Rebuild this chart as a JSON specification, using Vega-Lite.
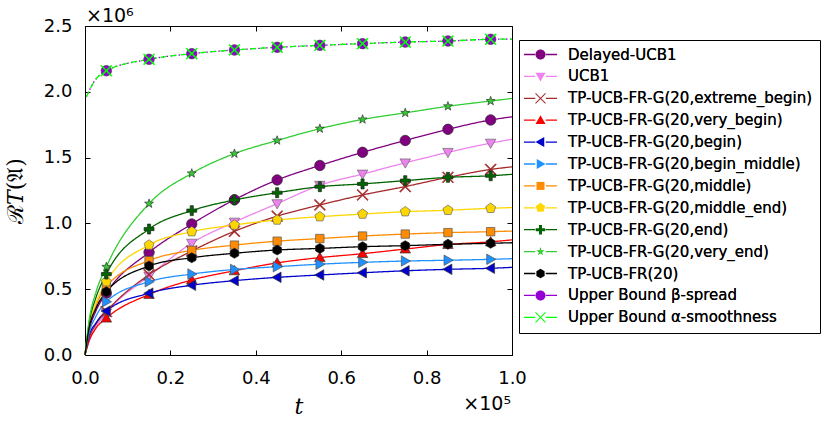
{
  "$schema": "https://vega.github.io/schema/vega-lite/v6.json",
  "width": 427,
  "height": 329,
  "autosize": "none",
  "padding": {"left": 85, "top": 26, "right": 318, "bottom": 72},
  "background": "white",
  "config": {
    "view": {"stroke": "#000", "strokeWidth": 1},
    "font": "DejaVu Sans",
    "axis": {
      "domain": false,
      "grid": false,
      "ticks": true,
      "tickSize": -5,
      "tickColor": "#000",
      "tickWidth": 1,
      "labelFont": "DejaVu Sans",
      "labelFontSize": 18,
      "labelColor": "#000",
      "labelPadding": 18,
      "labelFlush": false,
      "titleColor": "#000",
      "titleFontWeight": "normal"
    },
    "legend": {
      "orient": "none",
      "legendX": 434,
      "legendY": 14,
      "labelFont": "DejaVu Sans",
      "labelFontSize": 15,
      "labelColor": "#000",
      "labelLimit": 400,
      "symbolSize": 100,
      "symbolOffset": 7,
      "labelOffset": 20,
      "rowPadding": 5.9,
      "padding": 7,
      "cornerRadius": 0
    }
  },
  "datasets": {
    "curves": [
      {"s": "Delayed-UCB1", "t": 0, "v": 0},
      {"s": "Delayed-UCB1", "t": 0.01, "v": 0.19},
      {"s": "Delayed-UCB1", "t": 0.025, "v": 0.33},
      {"s": "Delayed-UCB1", "t": 0.05, "v": 0.47},
      {"s": "Delayed-UCB1", "t": 0.15, "v": 0.78},
      {"s": "Delayed-UCB1", "t": 0.25, "v": 0.995},
      {"s": "Delayed-UCB1", "t": 0.35, "v": 1.18},
      {"s": "Delayed-UCB1", "t": 0.45, "v": 1.33},
      {"s": "Delayed-UCB1", "t": 0.55, "v": 1.44},
      {"s": "Delayed-UCB1", "t": 0.65, "v": 1.54},
      {"s": "Delayed-UCB1", "t": 0.75, "v": 1.63},
      {"s": "Delayed-UCB1", "t": 0.85, "v": 1.715},
      {"s": "Delayed-UCB1", "t": 0.95, "v": 1.786},
      {"s": "Delayed-UCB1", "t": 1.0, "v": 1.81},
      {"s": "UCB1", "t": 0, "v": 0},
      {"s": "UCB1", "t": 0.01, "v": 0.11},
      {"s": "UCB1", "t": 0.025, "v": 0.21},
      {"s": "UCB1", "t": 0.05, "v": 0.32},
      {"s": "UCB1", "t": 0.15, "v": 0.6},
      {"s": "UCB1", "t": 0.25, "v": 0.85},
      {"s": "UCB1", "t": 0.35, "v": 1.01},
      {"s": "UCB1", "t": 0.45, "v": 1.15},
      {"s": "UCB1", "t": 0.55, "v": 1.29},
      {"s": "UCB1", "t": 0.65, "v": 1.375},
      {"s": "UCB1", "t": 0.75, "v": 1.46},
      {"s": "UCB1", "t": 0.85, "v": 1.54},
      {"s": "UCB1", "t": 0.95, "v": 1.61},
      {"s": "UCB1", "t": 1.0, "v": 1.64},
      {"s": "TP-UCB-FR-G(20,extreme_begin)", "t": 0, "v": 0},
      {"s": "TP-UCB-FR-G(20,extreme_begin)", "t": 0.01, "v": 0.13},
      {"s": "TP-UCB-FR-G(20,extreme_begin)", "t": 0.025, "v": 0.23},
      {"s": "TP-UCB-FR-G(20,extreme_begin)", "t": 0.05, "v": 0.33},
      {"s": "TP-UCB-FR-G(20,extreme_begin)", "t": 0.15, "v": 0.61},
      {"s": "TP-UCB-FR-G(20,extreme_begin)", "t": 0.25, "v": 0.79},
      {"s": "TP-UCB-FR-G(20,extreme_begin)", "t": 0.35, "v": 0.94},
      {"s": "TP-UCB-FR-G(20,extreme_begin)", "t": 0.45, "v": 1.055},
      {"s": "TP-UCB-FR-G(20,extreme_begin)", "t": 0.55, "v": 1.14},
      {"s": "TP-UCB-FR-G(20,extreme_begin)", "t": 0.65, "v": 1.216},
      {"s": "TP-UCB-FR-G(20,extreme_begin)", "t": 0.75, "v": 1.28},
      {"s": "TP-UCB-FR-G(20,extreme_begin)", "t": 0.85, "v": 1.35},
      {"s": "TP-UCB-FR-G(20,extreme_begin)", "t": 0.95, "v": 1.41},
      {"s": "TP-UCB-FR-G(20,extreme_begin)", "t": 1.0, "v": 1.43},
      {"s": "TP-UCB-FR-G(20,very_begin)", "t": 0, "v": 0},
      {"s": "TP-UCB-FR-G(20,very_begin)", "t": 0.01, "v": 0.11},
      {"s": "TP-UCB-FR-G(20,very_begin)", "t": 0.025, "v": 0.2},
      {"s": "TP-UCB-FR-G(20,very_begin)", "t": 0.05, "v": 0.28},
      {"s": "TP-UCB-FR-G(20,very_begin)", "t": 0.15, "v": 0.46},
      {"s": "TP-UCB-FR-G(20,very_begin)", "t": 0.25, "v": 0.57},
      {"s": "TP-UCB-FR-G(20,very_begin)", "t": 0.35, "v": 0.64},
      {"s": "TP-UCB-FR-G(20,very_begin)", "t": 0.45, "v": 0.70},
      {"s": "TP-UCB-FR-G(20,very_begin)", "t": 0.55, "v": 0.74},
      {"s": "TP-UCB-FR-G(20,very_begin)", "t": 0.65, "v": 0.77},
      {"s": "TP-UCB-FR-G(20,very_begin)", "t": 0.75, "v": 0.805},
      {"s": "TP-UCB-FR-G(20,very_begin)", "t": 0.85, "v": 0.84},
      {"s": "TP-UCB-FR-G(20,very_begin)", "t": 0.95, "v": 0.86},
      {"s": "TP-UCB-FR-G(20,very_begin)", "t": 1.0, "v": 0.875},
      {"s": "TP-UCB-FR-G(20,begin)", "t": 0, "v": 0},
      {"s": "TP-UCB-FR-G(20,begin)", "t": 0.01, "v": 0.15},
      {"s": "TP-UCB-FR-G(20,begin)", "t": 0.025, "v": 0.24},
      {"s": "TP-UCB-FR-G(20,begin)", "t": 0.05, "v": 0.334},
      {"s": "TP-UCB-FR-G(20,begin)", "t": 0.15, "v": 0.47},
      {"s": "TP-UCB-FR-G(20,begin)", "t": 0.25, "v": 0.53},
      {"s": "TP-UCB-FR-G(20,begin)", "t": 0.35, "v": 0.565},
      {"s": "TP-UCB-FR-G(20,begin)", "t": 0.45, "v": 0.59},
      {"s": "TP-UCB-FR-G(20,begin)", "t": 0.55, "v": 0.608},
      {"s": "TP-UCB-FR-G(20,begin)", "t": 0.65, "v": 0.625},
      {"s": "TP-UCB-FR-G(20,begin)", "t": 0.75, "v": 0.64},
      {"s": "TP-UCB-FR-G(20,begin)", "t": 0.85, "v": 0.651},
      {"s": "TP-UCB-FR-G(20,begin)", "t": 0.95, "v": 0.659},
      {"s": "TP-UCB-FR-G(20,begin)", "t": 1.0, "v": 0.666},
      {"s": "TP-UCB-FR-G(20,begin_middle)", "t": 0, "v": 0},
      {"s": "TP-UCB-FR-G(20,begin_middle)", "t": 0.01, "v": 0.17},
      {"s": "TP-UCB-FR-G(20,begin_middle)", "t": 0.025, "v": 0.29},
      {"s": "TP-UCB-FR-G(20,begin_middle)", "t": 0.05, "v": 0.405},
      {"s": "TP-UCB-FR-G(20,begin_middle)", "t": 0.15, "v": 0.557},
      {"s": "TP-UCB-FR-G(20,begin_middle)", "t": 0.25, "v": 0.615},
      {"s": "TP-UCB-FR-G(20,begin_middle)", "t": 0.35, "v": 0.65},
      {"s": "TP-UCB-FR-G(20,begin_middle)", "t": 0.45, "v": 0.671},
      {"s": "TP-UCB-FR-G(20,begin_middle)", "t": 0.55, "v": 0.69},
      {"s": "TP-UCB-FR-G(20,begin_middle)", "t": 0.65, "v": 0.704},
      {"s": "TP-UCB-FR-G(20,begin_middle)", "t": 0.75, "v": 0.714},
      {"s": "TP-UCB-FR-G(20,begin_middle)", "t": 0.85, "v": 0.72},
      {"s": "TP-UCB-FR-G(20,begin_middle)", "t": 0.95, "v": 0.727},
      {"s": "TP-UCB-FR-G(20,begin_middle)", "t": 1.0, "v": 0.732},
      {"s": "TP-UCB-FR-G(20,middle)", "t": 0, "v": 0},
      {"s": "TP-UCB-FR-G(20,middle)", "t": 0.01, "v": 0.22},
      {"s": "TP-UCB-FR-G(20,middle)", "t": 0.025, "v": 0.37},
      {"s": "TP-UCB-FR-G(20,middle)", "t": 0.05, "v": 0.52},
      {"s": "TP-UCB-FR-G(20,middle)", "t": 0.15, "v": 0.717},
      {"s": "TP-UCB-FR-G(20,middle)", "t": 0.25, "v": 0.795},
      {"s": "TP-UCB-FR-G(20,middle)", "t": 0.35, "v": 0.835},
      {"s": "TP-UCB-FR-G(20,middle)", "t": 0.45, "v": 0.865},
      {"s": "TP-UCB-FR-G(20,middle)", "t": 0.55, "v": 0.885},
      {"s": "TP-UCB-FR-G(20,middle)", "t": 0.65, "v": 0.904},
      {"s": "TP-UCB-FR-G(20,middle)", "t": 0.75, "v": 0.919},
      {"s": "TP-UCB-FR-G(20,middle)", "t": 0.85, "v": 0.93},
      {"s": "TP-UCB-FR-G(20,middle)", "t": 0.95, "v": 0.937},
      {"s": "TP-UCB-FR-G(20,middle)", "t": 1.0, "v": 0.942},
      {"s": "TP-UCB-FR-G(20,middle_end)", "t": 0, "v": 0},
      {"s": "TP-UCB-FR-G(20,middle_end)", "t": 0.01, "v": 0.23},
      {"s": "TP-UCB-FR-G(20,middle_end)", "t": 0.025, "v": 0.39},
      {"s": "TP-UCB-FR-G(20,middle_end)", "t": 0.05, "v": 0.557},
      {"s": "TP-UCB-FR-G(20,middle_end)", "t": 0.15, "v": 0.836},
      {"s": "TP-UCB-FR-G(20,middle_end)", "t": 0.25, "v": 0.937},
      {"s": "TP-UCB-FR-G(20,middle_end)", "t": 0.35, "v": 0.988},
      {"s": "TP-UCB-FR-G(20,middle_end)", "t": 0.45, "v": 1.026},
      {"s": "TP-UCB-FR-G(20,middle_end)", "t": 0.55, "v": 1.051},
      {"s": "TP-UCB-FR-G(20,middle_end)", "t": 0.65, "v": 1.071},
      {"s": "TP-UCB-FR-G(20,middle_end)", "t": 0.75, "v": 1.089},
      {"s": "TP-UCB-FR-G(20,middle_end)", "t": 0.85, "v": 1.10},
      {"s": "TP-UCB-FR-G(20,middle_end)", "t": 0.95, "v": 1.115},
      {"s": "TP-UCB-FR-G(20,middle_end)", "t": 1.0, "v": 1.12},
      {"s": "TP-UCB-FR-G(20,end)", "t": 0, "v": 0},
      {"s": "TP-UCB-FR-G(20,end)", "t": 0.01, "v": 0.25},
      {"s": "TP-UCB-FR-G(20,end)", "t": 0.025, "v": 0.43},
      {"s": "TP-UCB-FR-G(20,end)", "t": 0.05, "v": 0.615},
      {"s": "TP-UCB-FR-G(20,end)", "t": 0.15, "v": 0.957},
      {"s": "TP-UCB-FR-G(20,end)", "t": 0.25, "v": 1.097},
      {"s": "TP-UCB-FR-G(20,end)", "t": 0.35, "v": 1.178},
      {"s": "TP-UCB-FR-G(20,end)", "t": 0.45, "v": 1.233},
      {"s": "TP-UCB-FR-G(20,end)", "t": 0.55, "v": 1.279},
      {"s": "TP-UCB-FR-G(20,end)", "t": 0.65, "v": 1.30},
      {"s": "TP-UCB-FR-G(20,end)", "t": 0.75, "v": 1.325},
      {"s": "TP-UCB-FR-G(20,end)", "t": 0.85, "v": 1.35},
      {"s": "TP-UCB-FR-G(20,end)", "t": 0.95, "v": 1.362},
      {"s": "TP-UCB-FR-G(20,end)", "t": 1.0, "v": 1.373},
      {"s": "TP-UCB-FR-G(20,very_end)", "t": 0, "v": 0},
      {"s": "TP-UCB-FR-G(20,very_end)", "t": 0.01, "v": 0.27},
      {"s": "TP-UCB-FR-G(20,very_end)", "t": 0.025, "v": 0.47},
      {"s": "TP-UCB-FR-G(20,very_end)", "t": 0.05, "v": 0.67},
      {"s": "TP-UCB-FR-G(20,very_end)", "t": 0.15, "v": 1.15},
      {"s": "TP-UCB-FR-G(20,very_end)", "t": 0.25, "v": 1.38},
      {"s": "TP-UCB-FR-G(20,very_end)", "t": 0.35, "v": 1.53},
      {"s": "TP-UCB-FR-G(20,very_end)", "t": 0.45, "v": 1.63},
      {"s": "TP-UCB-FR-G(20,very_end)", "t": 0.55, "v": 1.72},
      {"s": "TP-UCB-FR-G(20,very_end)", "t": 0.65, "v": 1.79},
      {"s": "TP-UCB-FR-G(20,very_end)", "t": 0.75, "v": 1.84},
      {"s": "TP-UCB-FR-G(20,very_end)", "t": 0.85, "v": 1.89},
      {"s": "TP-UCB-FR-G(20,very_end)", "t": 0.95, "v": 1.93},
      {"s": "TP-UCB-FR-G(20,very_end)", "t": 1.0, "v": 1.95},
      {"s": "TP-UCB-FR(20)", "t": 0, "v": 0},
      {"s": "TP-UCB-FR(20)", "t": 0.01, "v": 0.21},
      {"s": "TP-UCB-FR(20)", "t": 0.025, "v": 0.35},
      {"s": "TP-UCB-FR(20)", "t": 0.05, "v": 0.48},
      {"s": "TP-UCB-FR(20)", "t": 0.15, "v": 0.676},
      {"s": "TP-UCB-FR(20)", "t": 0.25, "v": 0.739},
      {"s": "TP-UCB-FR(20)", "t": 0.35, "v": 0.773},
      {"s": "TP-UCB-FR(20)", "t": 0.45, "v": 0.798},
      {"s": "TP-UCB-FR(20)", "t": 0.55, "v": 0.81},
      {"s": "TP-UCB-FR(20)", "t": 0.65, "v": 0.823},
      {"s": "TP-UCB-FR(20)", "t": 0.75, "v": 0.831},
      {"s": "TP-UCB-FR(20)", "t": 0.85, "v": 0.841},
      {"s": "TP-UCB-FR(20)", "t": 0.95, "v": 0.849},
      {"s": "TP-UCB-FR(20)", "t": 1.0, "v": 0.853},
      {"s": "Upper Bound β-spread", "t": 0.003, "v": 1.96},
      {"s": "Upper Bound β-spread", "t": 0.02, "v": 2.07},
      {"s": "Upper Bound β-spread", "t": 0.05, "v": 2.16},
      {"s": "Upper Bound β-spread", "t": 0.15, "v": 2.247},
      {"s": "Upper Bound β-spread", "t": 0.25, "v": 2.29},
      {"s": "Upper Bound β-spread", "t": 0.35, "v": 2.318},
      {"s": "Upper Bound β-spread", "t": 0.45, "v": 2.338},
      {"s": "Upper Bound β-spread", "t": 0.55, "v": 2.353},
      {"s": "Upper Bound β-spread", "t": 0.65, "v": 2.366},
      {"s": "Upper Bound β-spread", "t": 0.75, "v": 2.378},
      {"s": "Upper Bound β-spread", "t": 0.85, "v": 2.386},
      {"s": "Upper Bound β-spread", "t": 0.95, "v": 2.399},
      {"s": "Upper Bound β-spread", "t": 1.0, "v": 2.40},
      {"s": "Upper Bound α-smoothness", "t": 0.003, "v": 1.96},
      {"s": "Upper Bound α-smoothness", "t": 0.02, "v": 2.07},
      {"s": "Upper Bound α-smoothness", "t": 0.05, "v": 2.16},
      {"s": "Upper Bound α-smoothness", "t": 0.15, "v": 2.247},
      {"s": "Upper Bound α-smoothness", "t": 0.25, "v": 2.29},
      {"s": "Upper Bound α-smoothness", "t": 0.35, "v": 2.318},
      {"s": "Upper Bound α-smoothness", "t": 0.45, "v": 2.338},
      {"s": "Upper Bound α-smoothness", "t": 0.55, "v": 2.353},
      {"s": "Upper Bound α-smoothness", "t": 0.65, "v": 2.366},
      {"s": "Upper Bound α-smoothness", "t": 0.75, "v": 2.378},
      {"s": "Upper Bound α-smoothness", "t": 0.85, "v": 2.386},
      {"s": "Upper Bound α-smoothness", "t": 0.95, "v": 2.399},
      {"s": "Upper Bound α-smoothness", "t": 1.0, "v": 2.40}
    ]
  },
  "layer": [
    {
      "data": {"name": "curves"},
      "mark": {"type": "line", "interpolate": "monotone", "strokeWidth": 1.3},
      "encoding": {
        "x": {
          "field": "t",
          "type": "quantitative",
          "scale": {"domain": [0, 1], "nice": false},
          "axis": {
            "values": [0, 0.2, 0.4, 0.6, 0.8, 1],
            "format": ".1f",
            "labelPadding": 19,
            "title": "t",
            "titleFont": "DejaVu Serif",
            "titleFontStyle": "italic",
            "titleFontSize": 22,
            "titlePadding": 9
          }
        },
        "y": {
          "field": "v",
          "type": "quantitative",
          "scale": {"domain": [0, 2.5], "nice": false},
          "axis": {
            "values": [0, 0.5, 1, 1.5, 2, 2.5],
            "format": ".1f",
            "title": "ℛ𝑇(𝔄)",
            "titleFont": "DejaVu Serif",
            "titleFontSize": 22,
            "titlePadding": 16
          }
        },
        "stroke": {
          "field": "s",
          "type": "nominal",
          "scale": {
            "domain": ["Delayed-UCB1", "UCB1", "TP-UCB-FR-G(20,extreme_begin)", "TP-UCB-FR-G(20,very_begin)", "TP-UCB-FR-G(20,begin)", "TP-UCB-FR-G(20,begin_middle)", "TP-UCB-FR-G(20,middle)", "TP-UCB-FR-G(20,middle_end)", "TP-UCB-FR-G(20,end)", "TP-UCB-FR-G(20,very_end)", "TP-UCB-FR(20)", "Upper Bound β-spread", "Upper Bound α-smoothness"],
            "range": ["#800080", "#EE82EE", "#A52A2A", "#FF0000", "#0000CD", "#1E90FF", "#FF8C00", "#FFD700", "#006400", "#32CD32", "#000000", "#9400D3", "#00FF00"]
          },
          "legend": {
            "title": null,
            "symbolType": "M-3.3,0H-1.05M1.05,0H3.3",
            "symbolStrokeWidth": 1.3
          }
        },
        "strokeDash": {
          "field": "s",
          "type": "nominal",
          "scale": {
            "domain": ["Delayed-UCB1", "UCB1", "TP-UCB-FR-G(20,extreme_begin)", "TP-UCB-FR-G(20,very_begin)", "TP-UCB-FR-G(20,begin)", "TP-UCB-FR-G(20,begin_middle)", "TP-UCB-FR-G(20,middle)", "TP-UCB-FR-G(20,middle_end)", "TP-UCB-FR-G(20,end)", "TP-UCB-FR-G(20,very_end)", "TP-UCB-FR(20)", "Upper Bound β-spread", "Upper Bound α-smoothness"],
            "range": [[1, 0], [1, 0], [1, 0], [1, 0], [1, 0], [1, 0], [1, 0], [1, 0], [1, 0], [1, 0], [1, 0], [1.5, 2.5], [6, 4]]
          },
          "legend": {
            "title": null,
            "symbolType": "M-3.3,0H-1.05M1.05,0H3.3",
            "symbolStrokeWidth": 1.3
          }
        }
      }
    },
    {
      "data": {"name": "curves"},
      "transform": [{"filter": "round(datum.t * 1000) % 100 == 50"}],
      "mark": {"type": "point", "filled": true, "size": 110, "strokeWidth": 0.7, "opacity": 1},
      "encoding": {
        "x": {"field": "t", "type": "quantitative", "axis": null},
        "y": {"field": "v", "type": "quantitative", "axis": null},
        "color": {
          "field": "s",
          "type": "nominal",
          "scale": {
            "domain": ["Delayed-UCB1", "UCB1", "TP-UCB-FR-G(20,extreme_begin)", "TP-UCB-FR-G(20,very_begin)", "TP-UCB-FR-G(20,begin)", "TP-UCB-FR-G(20,begin_middle)", "TP-UCB-FR-G(20,middle)", "TP-UCB-FR-G(20,middle_end)", "TP-UCB-FR-G(20,end)", "TP-UCB-FR-G(20,very_end)", "TP-UCB-FR(20)", "Upper Bound β-spread", "Upper Bound α-smoothness"],
            "range": ["#800080", "#EE82EE", "#A52A2A", "#FF0000", "#0000CD", "#1E90FF", "#FF8C00", "#FFD700", "#006400", "#32CD32", "#000000", "#9400D3", "#00FF00"]
          },
          "legend": {
            "title": null,
            "strokeColor": "#000",
            "fillColor": "#fff"
          }
        },
        "shape": {
          "field": "s",
          "type": "nominal",
          "scale": {
            "domain": ["Delayed-UCB1", "UCB1", "TP-UCB-FR-G(20,extreme_begin)", "TP-UCB-FR-G(20,very_begin)", "TP-UCB-FR-G(20,begin)", "TP-UCB-FR-G(20,begin_middle)", "TP-UCB-FR-G(20,middle)", "TP-UCB-FR-G(20,middle_end)", "TP-UCB-FR-G(20,end)", "TP-UCB-FR-G(20,very_end)", "TP-UCB-FR(20)", "Upper Bound β-spread", "Upper Bound α-smoothness"],
            "range": [
              "M1,0A1,1 0 1,1 -1,0A1,1 0 1,1 1,0Z",
              "M-1,-0.75L1,-0.75L0,1Z",
              "M-0.93,-1.07L1.07,0.93L0.93,1.07L-1.07,-0.93ZM-0.93,1.07L-1.07,0.93L0.93,-1.07L1.07,-0.93Z",
              "M-1,0.75L1,0.75L0,-1Z",
              "M0.75,-1L0.75,1L-1,0Z",
              "M-0.75,-1L-0.75,1L1,0Z",
              "M-0.8,-0.8H0.8V0.8H-0.8Z",
              "M0,-1L0.951,-0.309L0.588,0.809L-0.588,0.809L-0.951,-0.309Z",
              "M-0.3,-0.95H0.3V-0.3H0.95V0.3H0.3V0.95H-0.3V0.3H-0.95V-0.3H-0.3Z",
              "M0,-0.9L0.212,-0.291L0.856,-0.278L0.342,0.111L0.529,0.728L0,0.36L-0.529,0.728L-0.342,0.111L-0.856,-0.278L-0.212,-0.291Z",
              "M0,-0.95L0.823,-0.475L0.823,0.475L0,0.95L-0.823,0.475L-0.823,-0.475Z",
              "M1,0A1,1 0 1,1 -1,0A1,1 0 1,1 1,0Z",
              "M-0.93,-1.07L1.07,0.93L0.93,1.07L-1.07,-0.93ZM-0.93,1.07L-1.07,0.93L0.93,-1.07L1.07,-0.93Z"
            ]
          }
        },
        "stroke": {
          "field": "s",
          "type": "nominal",
          "scale": {
            "domain": ["Delayed-UCB1", "UCB1", "TP-UCB-FR-G(20,extreme_begin)", "TP-UCB-FR-G(20,very_begin)", "TP-UCB-FR-G(20,begin)", "TP-UCB-FR-G(20,begin_middle)", "TP-UCB-FR-G(20,middle)", "TP-UCB-FR-G(20,middle_end)", "TP-UCB-FR-G(20,end)", "TP-UCB-FR-G(20,very_end)", "TP-UCB-FR(20)", "Upper Bound β-spread", "Upper Bound α-smoothness"],
            "range": ["#333", "#666", "#A52A2A", "#333", "#333", "#555", "#555", "#666", "#222", "#333", "#222", "#444", "#00FF00"]
          },
          "legend": null
        }
      }
    },
    {
      "data": {"name": "curves"},
      "mark": {"type": "point", "opacity": 0},
      "encoding": {
        "x": {
          "field": "t",
          "type": "quantitative",
          "axis": {"orient": "top", "values": [0, 0.2, 0.4, 0.6, 0.8, 1], "labels": false, "title": null}
        },
        "y": {
          "field": "v",
          "type": "quantitative",
          "axis": {"orient": "right", "values": [0, 0.5, 1, 1.5, 2, 2.5], "labels": false, "title": null}
        }
      }
    },
    {
      "data": {"values": [{"x": 0, "y": 2.5, "label": "×10⁶"}]},
      "mark": {"type": "text", "align": "left", "baseline": "alphabetic", "dx": 1, "dy": -4, "fontSize": 19, "font": "DejaVu Sans", "color": "#000"},
      "encoding": {
        "x": {"field": "x", "type": "quantitative", "axis": null},
        "y": {"field": "y", "type": "quantitative", "axis": null},
        "text": {"field": "label"}
      }
    },
    {
      "data": {"values": [{"x": 1, "y": 0, "label": "×10⁵"}]},
      "mark": {"type": "text", "align": "right", "baseline": "alphabetic", "dx": -1, "dy": 55, "fontSize": 19, "font": "DejaVu Sans", "color": "#000"},
      "encoding": {
        "x": {"field": "x", "type": "quantitative", "axis": null},
        "y": {"field": "y", "type": "quantitative", "axis": null},
        "text": {"field": "label"}
      }
    }
  ],
  "resolve": {
    "axis": {"x": "independent", "y": "independent"},
    "scale": {"stroke": "independent"},
    "legend": {"stroke": "independent"}
  }
}
